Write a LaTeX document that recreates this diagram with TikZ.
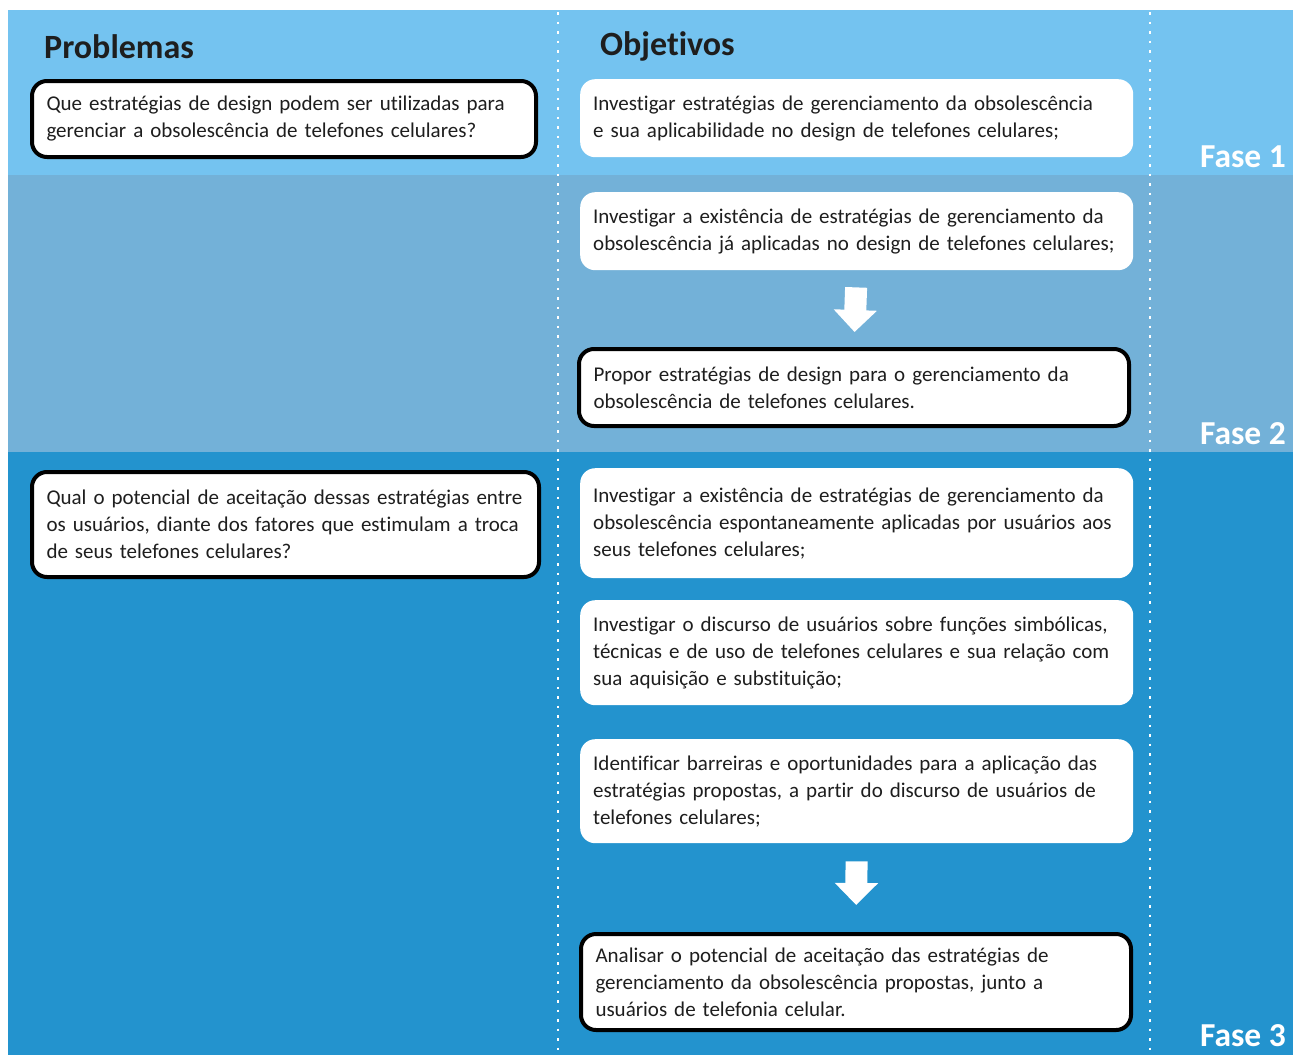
\documentclass[tikz,border=0pt]{standalone}
\usepackage{fontspec}
\setmainfont{Carlito}[Ligatures=NoCommon]
\usepackage{tikz}
\usetikzlibrary{arrows.meta}
\definecolor{f1blue}{RGB}{116,195,240}
\definecolor{f2blue}{RGB}{115,177,216}
\definecolor{f3blue}{RGB}{35,147,206}
\definecolor{txtgray}{RGB}{30,30,30}

\begin{document}
\begin{tikzpicture}[x=1pt, y=-1pt,
  box/.style={fill=white, rounded corners=15pt, anchor=north west, align=left, inner xsep=13pt, inner ysep=0pt, text=txtgray, font=\fontsize{21}{27}\selectfont},
  thickbox/.style={box, draw=black, line width=4pt, inner xsep=14.5pt},
  title/.style={anchor=base west, inner sep=0pt, font=\fontsize{34}{40}\selectfont\bfseries, text=txtgray},
  fase/.style={anchor=base east, inner sep=0pt, font=\fontsize{33.5}{40}\selectfont\bfseries, text=white},
  bigarrow/.style={white, line width=22pt, -{Triangle[width=42pt, length=22pt]}},
  dots/.style={white, line width=2.5pt, dash pattern=on 2.5pt off 7pt}]
  \useasboundingbox (0,0) rectangle (1298,1055);

  % Bands
  \fill[f1blue] (8,10) rectangle (1293,175);
  \fill[f2blue] (8,175) rectangle (1293,452);
  \fill[f3blue] (8,452) rectangle (1293,1055);
  \draw[dots] (558,12) -- (558,1055);
  \draw[dots] (1150,12) -- (1150,1055);

  \node[title] (prob) at (44,58) {Problemas};
  \node[title] (obj) at (600,55) {Objetivos};

  \node[fase] (f1) at (1286,167) {Fase 1};
  \node[fase] (f2) at (1286,444) {Fase 2};
  \node[fase] (f3) at (1286,1046) {Fase 3};

  % Problemas
  \node[thickbox, text width=475pt, minimum height=76pt] (p1) at (30,79)
    {Que estratégias de design podem ser utilizadas para\\gerenciar a obsolescência de telefones celulares?};
  \node[thickbox, text width=478pt, minimum height=105pt] (p2) at (30,470)
    {Qual o potencial de aceitação dessas estratégias entre\\os usuários, diante dos fatores que estimulam a troca\\de seus telefones celulares?};

  % Objetivos
  \node[box, text width=527pt, minimum height=78pt] (o1) at (580,79)
    {Investigar estratégias de gerenciamento da obsolescência\\e sua aplicabilidade no design de telefones celulares;};
  \node[box, text width=527pt, minimum height=78pt] (o2) at (580,192)
    {Investigar a existência de estratégias de gerenciamento da\\obsolescência já aplicadas no design de telefones celulares;};
  \node[thickbox, text width=521pt, minimum height=77pt] (o3) at (577,347)
    {Propor estratégias de design para o gerenciamento da\\obsolescência de telefones celulares.};
  \node[box, text width=527pt, minimum height=110pt] (o4) at (580,468)
    {Investigar a existência de estratégias de gerenciamento da\\obsolescência espontaneamente aplicadas por usuários aos\\seus telefones celulares;};
  \node[box, text width=527pt, minimum height=105pt] (o5) at (580,600)
    {Investigar o discurso de usuários sobre funções simbólicas,\\técnicas e de uso de telefones celulares e sua relação com\\sua aquisição e substituição;};
  \node[box, text width=527pt, minimum height=104pt] (o6) at (580,739)
    {Identificar barreiras e oportunidades para a aplicação das\\estratégias propostas, a partir do discurso de usuários de\\telefones celulares;};
  \node[thickbox, text width=521pt, minimum height=96pt] (o7) at (579,932)
    {Analisar o potencial de aceitação das estratégias de\\gerenciamento da obsolescência propostas, junto a\\usuários de telefonia celular.};

  \draw[bigarrow, shorten <=17pt, shorten >=15pt] (o2.south) -- (o3.north);
  \draw[bigarrow, shorten <=18pt, shorten >=27pt] (o6.south) -- (o7.north);
\end{tikzpicture}
\end{document}
